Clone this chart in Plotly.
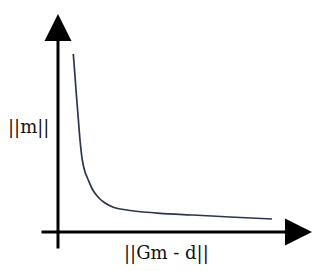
import plotly.graph_objects as go

# L-curve data (misfit ||Gm-d|| vs model norm ||m||), arbitrary units
misfit = [0.153, 0.167, 0.18, 0.20, 0.22, 0.243, 0.27, 0.303, 0.335, 0.37, 0.41, 0.453, 0.52, 0.587, 0.72, 1.02, 1.35, 1.72, 2.14]
model_norm = [1.78, 1.60, 1.42, 1.17, 0.92, 0.72, 0.60, 0.52, 0.445, 0.387, 0.34, 0.303, 0.262, 0.237, 0.215, 0.187, 0.17, 0.15, 0.13]
x_label = "||Gm - d||"
y_label = "||m||"

fig = go.Figure()
fig.add_trace(go.Scatter(
    x=misfit, y=model_norm, mode="lines",
    line=dict(color="#2b3552", width=1.7, shape="spline", smoothing=0.6),
    hoverinfo="skip", showlegend=False,
))

FONT = "DejaVu Serif, Liberation Serif, serif"
# axis arrows
fig.add_annotation(x=0, y=2.18, ax=0, ay=-0.18, xref="x", yref="y", axref="x", ayref="y",
                   text="", showarrow=True, arrowhead=2, arrowsize=1.8, arrowwidth=3, arrowcolor="black")
fig.add_annotation(x=2.54, y=0, ax=-0.18, ay=0, xref="x", yref="y", axref="x", ayref="y",
                   text="", showarrow=True, arrowhead=2, arrowsize=1.8, arrowwidth=3, arrowcolor="black")
fig.add_annotation(x=-0.295, y=1.05, xref="x", yref="y", text=y_label, showarrow=False,
                   font=dict(family=FONT, size=18, color="#111111"))
fig.add_annotation(x=1.087, y=-0.21, xref="x", yref="y", text=x_label, showarrow=False,
                   font=dict(family=FONT, size=18, color="#111111"))

fig.update_xaxes(range=[-0.58, 2.62], visible=False, fixedrange=True)
fig.update_yaxes(range=[-0.39, 2.32], visible=False, fixedrange=True)
fig.update_layout(width=320, height=271, margin=dict(l=0, r=0, t=0, b=0),
                  plot_bgcolor="rgba(255,255,255,0)", paper_bgcolor="rgba(255,255,255,0)")
fig.write_html("out.html")
